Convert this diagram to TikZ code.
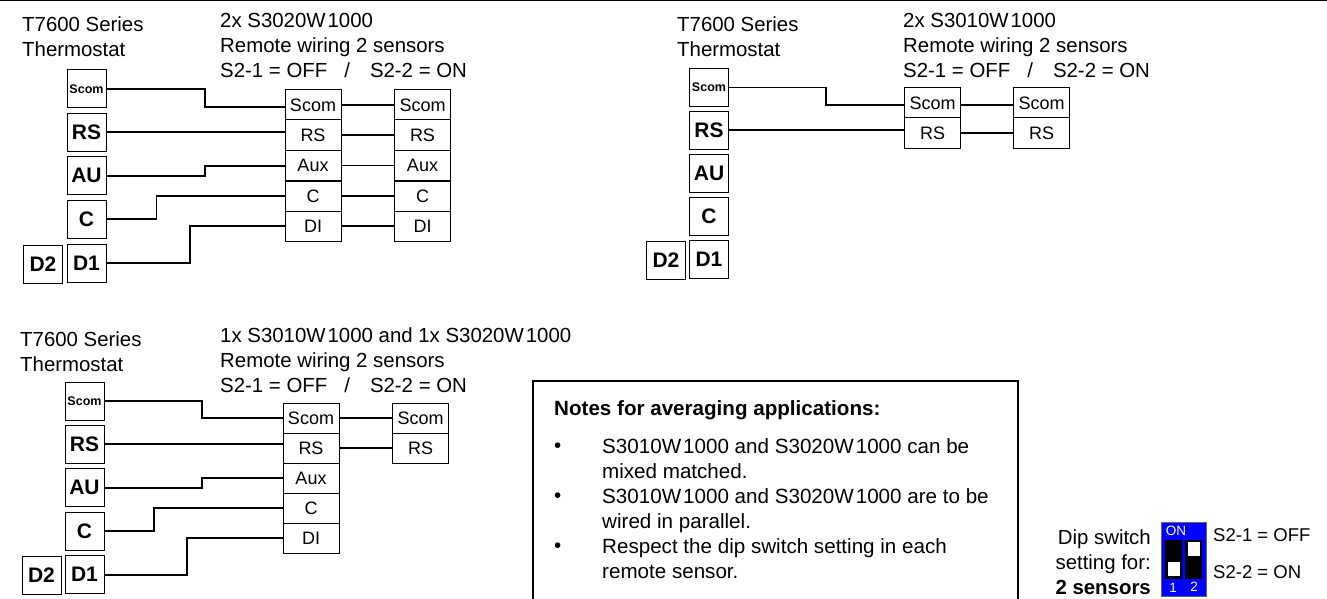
\documentclass[tikz,border=0pt]{standalone}
\usepackage{fontspec}
\setmainfont{Liberation Sans}
\usepackage{tikz}
\tikzset{
  termbox/.style={draw, minimum width=39pt, minimum height=38pt, inner sep=0pt, line width=1pt, font=\fontsize{21}{24}\selectfont\bfseries},
  termsmall/.style={termbox, font=\fontsize{12.5}{14}\selectfont\bfseries},
  rowbox/.style={draw, minimum width=56pt, minimum height=30pt, inner sep=0pt, line width=1pt, font=\fontsize{18}{20}\selectfont},
  title/.style={anchor=north west, inner sep=0pt, align=left, font=\fontsize{20.4}{25}\selectfont},
  heavy/.style={line width=2pt},
  light/.style={line width=1.2pt},
  notetext/.style={anchor=north west, inner sep=0pt, align=left, font=\fontsize{20.6}{25}\selectfont},
  diptext/.style={anchor=west, inner sep=0pt, font=\fontsize{18.5}{22}\selectfont},
  dipnum/.style={inner sep=0pt, text=white, font=\fontsize{13.5}{15}\selectfont}
}
\begin{document}
\begin{tikzpicture}[x=1pt, y=-1pt]
\useasboundingbox (0,0) rectangle (1327,599);
\draw [line width=2pt] (0,0.5) -- (1327,0.5);

\node [title] (a-head) at (22,17) {T7600 Series\\Thermostat};
\node [title] (a-sub) at (220,13.5) {2x S3020W\kern2pt 1000\\Remote wiring 2 sensors\\S2-1 = OFF\ \ \ /\ \ \ \kern3pt S2-2 = ON};
\node [termsmall] (a-scom) at (86.5,89) {Scom};
\node [termbox] (a-rs) at (86.5,132.5) {RS};
\node [termbox] (a-au) at (86.5,175.5) {AU};
\node [termbox] (a-c) at (86.5,219) {C};
\node [termbox] (a-done) at (86.5,263) {D1};
\node [termbox] (a-dtwo) at (43,264) {D2};
\node [rowbox] (a1-scom) at (313,105) {Scom};
\node [rowbox] (a1-rs) at (313,135) {RS};
\node [rowbox] (a1-aux) at (313,165.5) {Aux};
\node [rowbox] (a1-c) at (313,196) {C};
\node [rowbox] (a1-di) at (313,226) {DI};
\node [rowbox] (a2-scom) at (422.5,105) {Scom};
\node [rowbox] (a2-rs) at (422.5,135) {RS};
\node [rowbox] (a2-aux) at (422.5,165.5) {Aux};
\node [rowbox] (a2-c) at (422.5,196) {C};
\node [rowbox] (a2-di) at (422.5,226) {DI};
\draw [heavy] (a-scom.east) -- ++(98,0) |- ([yshift=-2pt]a1-scom.west);
\draw [heavy] (a-rs.east) -- (a-rs.east -| a1-rs.west);
\draw [heavy] (a-au.east) -- ++(98,0) |- (a1-aux.west);
\draw [light] (a-c.east) -- ++(50,0) |- (a1-c.west);
\draw [heavy] (a-done.east) -- ++(83,0) |- (a1-di.west);
\draw [heavy] (a1-scom.east) -- (a2-scom.west);
\draw [light] (a1-rs.east) -- (a2-rs.west);
\draw [light] (a1-aux.east) -- (a2-aux.west);
\draw [heavy] (a1-c.east) -- (a2-c.west);
\draw [heavy] (a1-di.east) -- (a2-di.west);

\node [title] (b-head) at (677,17) {T7600 Series\\Thermostat};
\node [title] (b-sub) at (903,13.5) {2x S3010W\kern2pt 1000\\Remote wiring 2 sensors\\S2-1 = OFF\ \ \ /\ \ \ \kern3pt S2-2 = ON};
\node [termsmall] (b-scom) at (709,87.5) {Scom};
\node [termbox] (b-rs) at (709,130.5) {RS};
\node [termbox] (b-au) at (709,173) {AU};
\node [termbox] (b-c) at (709,216) {C};
\node [termbox] (b-done) at (709,259) {D1};
\node [termbox] (b-dtwo) at (666,260) {D2};
\node [rowbox] (b1-scom) at (932.5,103) {Scom};
\node [rowbox] (b1-rs) at (932.5,133) {RS};
\node [rowbox] (b2-scom) at (1041.5,103) {Scom};
\node [rowbox] (b2-rs) at (1041.5,133) {RS};
\draw [light] (b-scom.east) -- ++(97,0) |- ([yshift=-2pt]b1-scom.west);
\draw [heavy] (b-rs.east) -- (b-rs.east -| b1-rs.west);
\draw [heavy] ([yshift=-2pt]b1-scom.east) -- ([yshift=-2pt]b2-scom.west);
\draw [heavy] (b1-rs.east) -- (b2-rs.west);

\node [title] (c-head) at (20,332) {T7600 Series\\Thermostat};
\node [title] (c-sub) at (220,328) {1x S3010W\kern2pt 1000 and 1x S3020W\kern2pt 1000\\Remote wiring 2 sensors\\S2-1 = OFF\ \ \ /\ \ \ \kern3pt S2-2 = ON};
\node [termsmall] (c-scom) at (84.5,401) {Scom};
\node [termbox] (c-rs) at (84.5,444) {RS};
\node [termbox] (c-au) at (84.5,487.5) {AU};
\node [termbox] (c-c) at (84.5,531) {C};
\node [termbox] (c-done) at (84.5,574.5) {D1};
\node [termbox] (c-dtwo) at (41.5,575) {D2};
\node [rowbox] (c1-scom) at (311,418) {Scom};
\node [rowbox] (c1-rs) at (311,448) {RS};
\node [rowbox] (c1-aux) at (311,478) {Aux};
\node [rowbox] (c1-c) at (311,508) {C};
\node [rowbox] (c1-di) at (311,538) {DI};
\node [rowbox] (c2-scom) at (420.5,418) {Scom};
\node [rowbox] (c2-rs) at (420.5,448) {RS};
\draw [heavy] (c-scom.east) -- ++(97,0) |- (c1-scom.west);
\draw [light] (c-rs.east) -- (c-rs.east -| c1-rs.west);
\draw [heavy] (c-au.east) -- ++(97,0) |- (c1-aux.west);
\draw [heavy] (c-c.east) -- ++(49,0) |- (c1-c.west);
\draw [heavy] (c-done.east) -- ++(82,0) |- (c1-di.west);
\draw [heavy] (c1-scom.east) -- (c2-scom.west);
\draw [heavy] (c1-rs.east) -- (c2-rs.west);

\draw [line width=2pt] (533,599) -- (533,381) -- (1018,381) -- (1018,599);
\node [notetext] (note-head) at (554,400) {\bfseries Notes for averaging applications:};
\node [notetext] (bullet-a) at (554,443) {•};
\node [notetext] (note-a) at (602,438) {S3010W\kern2pt 1000 and S3020W\kern2pt 1000 can be\\mixed matched.};
\node [notetext] (bullet-b) at (554,493) {•};
\node [notetext] (note-b) at (602,488) {S3010W\kern2pt 1000 and S3020W\kern2pt 1000 are to be\\wired in parallel.};
\node [notetext] (bullet-c) at (554,543) {•};
\node [notetext] (note-c) at (602,538) {Respect the dip switch setting in each\\remote sensor.};

\node [anchor=east, inner sep=0pt, align=right, font=\fontsize{20.4}{25}\selectfont] (dip-text) at (1151,562) {Dip switch\\setting for:\\\bfseries 2 sensors};
\node [fill=blue, draw=black!60, minimum width=45pt, minimum height=74pt, inner sep=0pt] (dip) at (1183.5,559) {};
\node [fill=black, minimum width=17pt, minimum height=39pt, inner sep=0pt] (slot-a) at (1173.5,559.5) {};
\node [fill=black, minimum width=17pt, minimum height=39pt, inner sep=0pt] (slot-b) at (1193.5,559.5) {};
\node [fill=white, minimum width=12pt, minimum height=14pt, inner sep=0pt] (knob-a) at (1173.5,569) {};
\node [fill=white, minimum width=12pt, minimum height=14pt, inner sep=0pt] (knob-b) at (1193.5,548.5) {};
\node [dipnum] (dip-on) at (1176,531) {ON};
\node [dipnum] (dip-one) at (1173,587.5) {1};
\node [dipnum] (dip-two) at (1194,587) {2};
\node [diptext] (dip-off) at (1213,535) {S2-1 = OFF};
\node [diptext] (dip-onset) at (1213,572) {S2-2 = ON};
\end{tikzpicture}
\end{document}
